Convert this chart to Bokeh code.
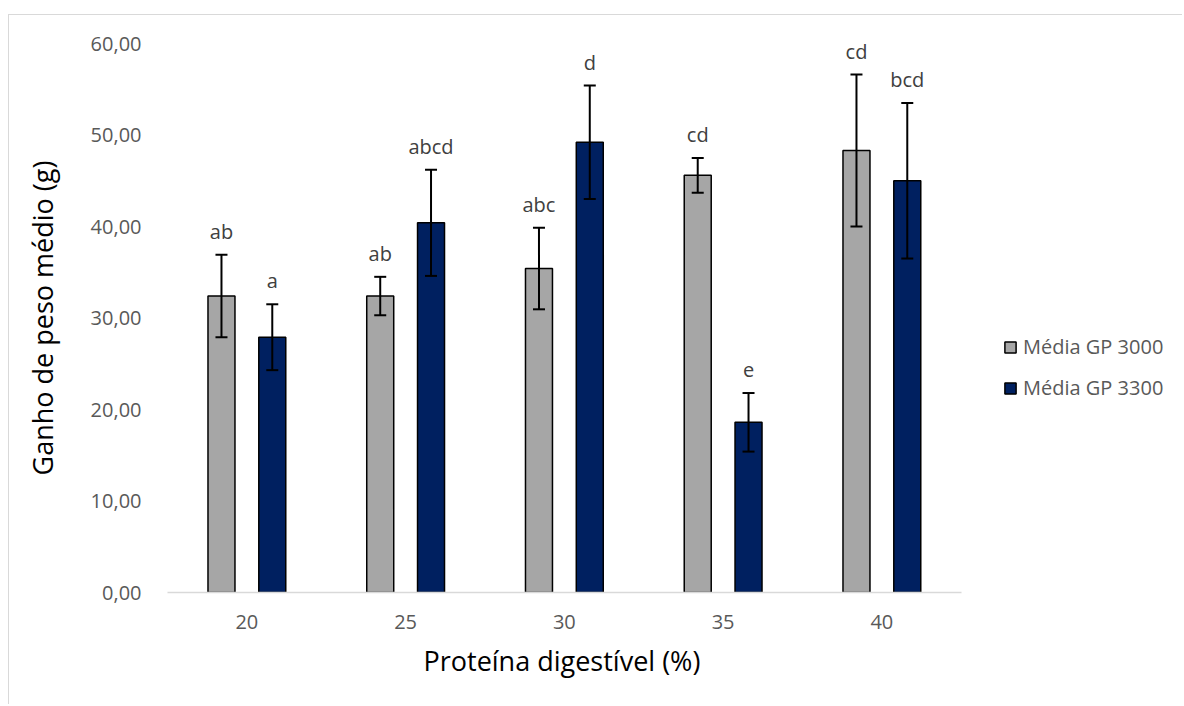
from bokeh.plotting import figure
from bokeh.models import (ColumnDataSource, Whisker, TeeHead, LabelSet, FixedTicker,
                          CustomJSTickFormatter, Legend, LegendItem, Range1d, Title)
from bokeh.core.properties import value
from bokeh.embed import file_html
from bokeh.resources import INLINE

# ---- data ----
proteina = [20, 25, 30, 35, 40]
tick_labels = ["20", "25", "30", "35", "40"]
gp3000 = [32.4, 32.4, 35.4, 45.6, 48.3]
err3000 = [4.5, 2.1, 4.45, 1.9, 8.3]
let3000 = ["ab", "ab", "abc", "cd", "cd"]
gp3300 = [27.9, 40.4, 49.2, 18.6, 45.0]
err3300 = [3.6, 5.8, 6.2, 3.2, 8.5]
let3300 = ["a", "abcd", "d", "e", "bcd"]
series_names = ["Média GP 3000", "Média GP 3300"]
x_title = "Proteína digestível (%)"
y_title = "Ganho de peso médio (g)"

FONT = "Open Sans"
GRAY = "#a6a6a6"
NAVY = "#002060"
OFFSET = 0.8
BAR_W = 0.85
X_START, X_AXIS_END = 17.5, 42.5
X_VIEW_END = 49.5   # extra room on the right of the frame for the legend

def make_source(vals, errs, letters, shift):
    return ColumnDataSource(dict(
        x=[p + shift for p in proteina],
        top=vals,
        upper=[v + e for v, e in zip(vals, errs)],
        lower=[v - e for v, e in zip(vals, errs)],
        lab=letters,
    ))

s1 = make_source(gp3000, err3000, let3000, -OFFSET)
s2 = make_source(gp3300, err3300, let3300, OFFSET)

p = figure(width=1174, height=690, output_backend="svg", toolbar_location=None,
           x_range=Range1d(X_START, X_VIEW_END), y_range=Range1d(0, 60),
           min_border_left=158, min_border_right=0, min_border_top=28,
           min_border_bottom=113)
p.margin = (14, 0, 0, 8)
p.styles = {"border-top": "1px solid #d9d9d9", "border-left": "1px solid #d9d9d9"}
p.outline_line_color = None
p.grid.visible = False
p.background_fill_color = "white"
p.border_fill_color = "white"

r1 = p.vbar(x="x", top="top", width=BAR_W, source=s1, fill_color=GRAY,
            line_color="black", line_width=1.5)
r2 = p.vbar(x="x", top="top", width=BAR_W, source=s2, fill_color=NAVY,
            line_color="black", line_width=1.5)

for s in (s1, s2):
    w = Whisker(base="x", upper="upper", lower="lower", source=s, level="overlay",
                line_color="black", line_width=2,
                upper_head=TeeHead(size=12, line_width=2, line_color="black"),
                lower_head=TeeHead(size=12, line_width=2, line_color="black"))
    p.add_layout(w)
    lbl = LabelSet(x="x", y="upper", text="lab", source=s, y_offset=16,
                   text_align="center", text_baseline="alphabetic",
                   text_font=value(FONT), text_font_size="20px", text_color="#404040")
    p.add_layout(lbl)

# axes
p.xaxis.ticker = FixedTicker(ticks=proteina)
p.xaxis.major_label_overrides = {pv: t for pv, t in zip(proteina, tick_labels)}
p.xaxis.bounds = (X_START, X_AXIS_END)
p.xaxis.axis_line_color = "#d9d9d9"
p.xaxis.axis_line_width = 1.5
p.xaxis.major_tick_line_color = None
p.xaxis.minor_tick_line_color = None
p.xaxis.major_label_text_font = FONT
p.xaxis.major_label_text_font_size = "20px"
p.xaxis.major_label_text_color = "#595959"
p.xaxis.major_label_standoff = 16

# x-axis title centred under the category axis (not the wider frame)
xt = Title(text=x_title, align="left", offset=256, standoff=16,
           text_font=FONT, text_font_size="27px", text_font_style="normal",
           text_color="black")
p.add_layout(xt, "below")

p.yaxis.ticker = FixedTicker(ticks=[0, 10, 20, 30, 40, 50, 60])
p.yaxis.formatter = CustomJSTickFormatter(code="return tick.toFixed(2).replace('.', ',');")
p.yaxis.axis_line_color = None
p.yaxis.major_tick_line_color = None
p.yaxis.minor_tick_line_color = None
p.yaxis.major_label_text_font = FONT
p.yaxis.major_label_text_font_size = "20px"
p.yaxis.major_label_text_color = "#595959"
p.yaxis.major_label_standoff = 20
p.yaxis.axis_label = y_title
p.yaxis.axis_label_text_font = FONT
p.yaxis.axis_label_text_font_size = "27px"
p.yaxis.axis_label_text_font_style = "normal"
p.yaxis.axis_label_text_color = "black"
p.yaxis.axis_label_standoff = 27

legend = Legend(items=[LegendItem(label=series_names[0], renderers=[r1]),
                       LegendItem(label=series_names[1], renderers=[r2])],
                location=(836, 191), orientation="vertical",
                glyph_width=14, glyph_height=14, label_standoff=6,
                label_text_font=FONT, label_text_font_size="20px",
                label_text_color="#595959", spacing=14, padding=0, margin=0,
                border_line_color=None, background_fill_alpha=0)
p.add_layout(legend, "center")

open("out.html", "w").write(file_html(p, INLINE))
